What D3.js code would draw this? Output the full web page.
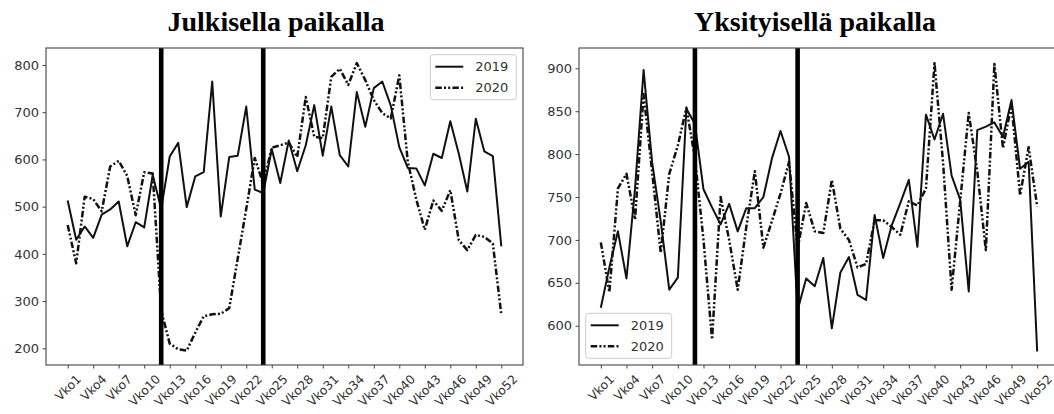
<!DOCTYPE html>
<html><head><meta charset="utf-8">
<script src="https://cdn.jsdelivr.net/npm/d3@7"></script>
<style>body{margin:0;background:#fff} svg{display:block}</style>
</head><body><svg id="c" width="1054" height="414"></svg>
<script>
// ---------- data ----------
const weeks = d3.range(1, 53);
const tickWeeks = [1,4,7,10,13,16,19,22,25,28,31,34,37,40,43,46,49,52];
const tickLabels = ["Vko1","Vko4","Vko7","Vko10","Vko13","Vko16","Vko19","Vko22","Vko25","Vko28","Vko31","Vko34","Vko37","Vko40","Vko43","Vko46","Vko49","Vko52"];
const seriesNames = ["2019","2020"];
const titles = ["Julkisella paikalla","Yksityisellä paikalla"];
const markerWeeks = [12, 24];
const publicTicks = [200,300,400,500,600,700,800];
const privateTicks = [600,650,700,750,800,850,900];
const public2019 = [513,430,458,434,483,494,511,416,467,456,567,495,606,635,499,564,573,765,479,605,608,712,536,529,622,550,640,575,630,715,608,712,609,585,743,669,751,765,714,626,582,581,545,612,603,681,612,532,686,617,607,416];
const public2020 = [461,380,521,516,490,585,597,565,482,573,570,280,210,198,195,233,268,272,273,285,390,495,603,548,625,630,636,605,732,648,645,775,792,758,804,768,726,698,687,778,595,515,451,513,491,535,429,408,440,436,422,271];
const private2019 = [621,668,710,655,760,898,790,722,642,656,853,835,759,738,718,742,710,737,737,750,795,827,797,618,655,646,679,597,662,680,636,630,729,679,717,743,770,692,846,817,847,775,747,640,828,832,837,820,863,783,791,570];
const private2020 = [697,639,760,777,724,870,779,685,777,810,854,795,700,584,750,700,642,715,780,691,722,754,791,690,743,710,708,770,713,700,668,672,723,723,715,706,745,740,760,906,790,642,745,848,780,688,905,807,858,752,808,739];

// ---------- layout / style ----------
const svg = d3.select("#c");
const FONT = "DejaVu Sans, sans-serif";
const INK = "#111";
const TXT = "#333";
const panels = [
  {title: titles[0], s19: public2019, s20: public2020, ticks: publicTicks, yDomain: [164.6, 836],
   x0: 46, x1: 523, y0: 48, y1: 365, legend: "tr", tx: 276},
  {title: titles[1], s19: private2019, s20: private2020, ticks: privateTicks, yDomain: [554.2, 923.7],
   x0: 579, x1: 1059, y0: 48, y1: 365, legend: "bl", tx: 815}
];
const styles = [
  {width: 2, dash: null},
  {width: 2.5, dash: "6.5 2.2 2 2.2 2 2.2"}
];

panels.forEach((p, pi) => {
  const g = svg.append("g");
  const x = d3.scaleLinear().domain([1 - 2.55, 52 + 2.55]).range([p.x0, p.x1]);
  const y = d3.scaleLinear().domain(p.yDomain).range([p.y1, p.y0]);
  const clipId = "clip" + pi;
  svg.append("clipPath").attr("id", clipId).append("rect")
    .attr("x", p.x0).attr("y", p.y0).attr("width", p.x1 - p.x0).attr("height", p.y1 - p.y0);

  const line = d3.line().x((d, i) => x(weeks[i])).y(d => y(d));
  const plot = g.append("g").attr("clip-path", `url(#${clipId})`);
  [p.s19, p.s20].forEach((s, si) => {
    plot.append("path").datum(s).attr("d", line)
      .attr("fill", "none").attr("stroke", INK)
      .attr("stroke-width", styles[si].width)
      .attr("stroke-dasharray", styles[si].dash)
      .attr("stroke-linejoin", "round");
  });
  plot.selectAll("line.mark").data(markerWeeks).join("line")
    .attr("x1", d => x(d)).attr("x2", d => x(d))
    .attr("y1", p.y0).attr("y2", p.y1)
    .attr("stroke", "#000").attr("stroke-width", 4.6);

  // frame
  g.append("rect").attr("x", p.x0).attr("y", p.y0)
    .attr("width", p.x1 - p.x0).attr("height", p.y1 - p.y0)
    .attr("fill", "none").attr("stroke", "#444").attr("stroke-width", 1.1);

  // y axis
  const ya = g.append("g").attr("transform", `translate(${p.x0},0)`)
    .call(d3.axisLeft(y).tickValues(p.ticks).tickSize(3.5).tickPadding(3.5).tickFormat(d3.format("d")));
  ya.select(".domain").remove();
  ya.selectAll("line").attr("stroke", "#444");
  ya.selectAll("text").attr("fill", TXT).style("font-family", FONT).style("font-size", "13px");

  // x axis
  const xa = g.append("g").attr("transform", `translate(0,${p.y1})`)
    .call(d3.axisBottom(x).tickValues(tickWeeks).tickSize(3.5).tickFormat((d, i) => tickLabels[i]));
  xa.select(".domain").remove();
  xa.selectAll("line").attr("stroke", "#444");
  const fs = 12.3, th = fs * 1.16;
  xa.selectAll("text").attr("fill", TXT).style("font-family", FONT).style("font-size", fs + "px")
    .each(function() {
      const t = d3.select(this);
      const w = this.getComputedTextLength();
      const bh = (w + th) * Math.SQRT1_2;
      t.attr("y", 0).attr("dy", null).attr("x", 0)
        .attr("text-anchor", "middle").attr("dominant-baseline", "central")
        .attr("transform", `translate(${pi === 1 && w > 34 ? -1 : 0},${7 + bh / 2}) rotate(-45)`);
    });

  // title
  g.append("text").attr("x", p.tx).attr("y", 31)
    .attr("text-anchor", "middle")
    .style("font-family", "Liberation Serif, Times New Roman, serif")
    .style("font-weight", "bold").style("font-size", "28px").attr("fill", "#000")
    .text(p.title);

  // legend
  const lw = 86, lh = 45;
  const lx = p.legend === "tr" ? p.x1 - 6.7 - lw : p.x0 + 6.7;
  const ly = p.legend === "tr" ? p.y0 + 6.7 : p.y1 - 6.7 - lh;
  const lg = g.append("g").attr("transform", `translate(${lx},${ly})`);
  lg.append("rect").attr("width", lw).attr("height", lh).attr("rx", 3)
    .attr("fill", "#fff").attr("fill-opacity", 0.85).attr("stroke", "#ccc").attr("stroke-width", 1);
  seriesNames.forEach((n, i) => {
    const cy = 12 + i * 21;
    lg.append("line").attr("x1", 5).attr("x2", 33).attr("y1", cy).attr("y2", cy)
      .attr("stroke", INK).attr("stroke-width", styles[i].width).attr("stroke-dasharray", styles[i].dash);
    lg.append("text").attr("x", 45).attr("y", cy).attr("dominant-baseline", "central")
      .attr("fill", TXT).style("font-family", FONT).style("font-size", "13px").text(n);
  });
});
</script></body></html>
